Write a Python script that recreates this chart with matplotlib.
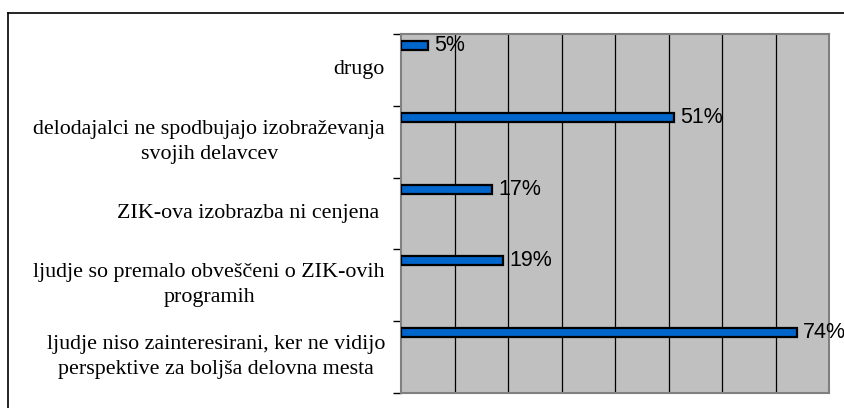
import matplotlib.pyplot as plt
from matplotlib.lines import Line2D

# survey answers, top to bottom
categories = ["drugo",
              "delodajalci ne spodbujajo izobraževanja\nsvojih delavcev",
              "ZIK-ova izobrazba ni cenjena ",
              "ljudje so premalo obveščeni o ZIK-ovih\nprogramih",
              "ljudje niso zainteresirani, ker ne vidijo\nperspektive za boljša delovna mesta"]
values = [0.05, 0.51, 0.17, 0.19, 0.74]
labels = ["5%", "51%", "17%", "19%", "74%"]
grid_ticks = [0.1, 0.2, 0.3, 0.4, 0.5, 0.6, 0.7]

fig = plt.figure(figsize=(8.44, 4.08), dpi=100)
ax = fig.add_axes([401/844, 1 - 393/408, 428/844, 359/408])
ax.set_facecolor("#c0c0c0")

pos = [i + 0.16 for i in range(len(values))]
ax.barh(pos, values, height=0.125, color="#0066cc", edgecolor="black", linewidth=1.6, zorder=3)

for p, v, lab in zip(pos, values, labels):
    ax.text(v + 0.012, p, lab, ha="left", va="center", fontsize=15.5,
            family="Liberation Sans", clip_on=False, zorder=4)

for i, c in enumerate(categories):
    ax.text(-0.03, i + 0.5, c, transform=ax.transData, ha="right", va="center",
            multialignment="center", fontsize=15.8, family="Liberation Serif",
            linespacing=1.4, clip_on=False)

ax.set_xlim(0, 0.8)
ax.set_ylim(5, 0)
ax.set_xticks(grid_ticks)
ax.tick_params(axis="x", length=0, labelbottom=False)
ax.set_yticks(range(6))
ax.tick_params(axis="y", length=6, width=1, color="black", labelleft=False)
ax.grid(axis="x", color="black", linewidth=0.9, zorder=1)
ax.set_axisbelow(True)
for s in ax.spines.values():
    s.set_color("#808080")
    s.set_linewidth(1.5)

# outer chart frame (cut at right/bottom)
fig.add_artist(Line2D([8/844, 1], [1 - 13/408, 1 - 13/408], color="black", linewidth=1.2))
fig.add_artist(Line2D([8/844, 8/844], [0, 1 - 13/408], color="black", linewidth=1.2))

fig.savefig("out.png", dpi=100)
